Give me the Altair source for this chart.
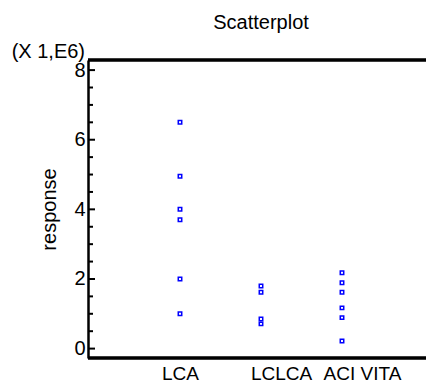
import altair as alt
import pandas as pd

# ---- data (response values in units of 1,E6) ----
categories = ["LCA", "LCLCA", "ACI VITA"]
lca = [6.5, 4.95, 4.0, 3.7, 2.0, 1.0]
lclca = [1.8, 1.62, 0.85, 0.71]
aci_vita = [2.18, 1.89, 1.62, 1.17, 0.89, 0.22]
major_ticks = [0, 2, 4, 6, 8]
minor_ticks = [0.5, 1, 1.5, 2.5, 3, 3.5, 4.5, 5, 5.5, 6.5, 7, 7.5]

rows = []
for cat, vals in zip(categories, [lca, lclca, aci_vita]):
    for v in vals:
        rows.append({"group": cat, "response": v})
df = pd.DataFrame(rows)

W, H = 338, 298
FONT = "Liberation Sans"

yscale = alt.Scale(domain=[-0.27, 8.29], nice=False, zero=False)
xscale = alt.Scale(domain=categories, range=[92, 254], padding=0)

yaxis = alt.Axis(values=major_ticks, ticks=False, domain=True, domainWidth=2.5,
                 domainColor="black", labelFontSize=20, labelPadding=3,
                 labelColor="black", labelFont=FONT, labelFlush=False,
                 title="response", titleFontSize=20, titleFontWeight="normal",
                 titleFont=FONT, titleColor="black", titlePadding=14, grid=False)

points = alt.Chart(df).mark_point(
    shape="square", filled=False, color="#0000FF", size=12, strokeWidth=1.5, opacity=1
).encode(
    x=alt.X("group:N", scale=xscale, sort=categories,
            axis=alt.Axis(title=None, ticks=False, domain=False, labelAngle=0,
                          labelFontSize=19, labelPadding=6, labelColor="black",
                          labelFont=FONT,
                          labelOffset={"condition": {"test": "datum.value == 'LCA'", "value": 0}, "value": 20})),
    y=alt.Y("response:Q", scale=yscale, axis=yaxis, title="response"),
)

major_df = pd.DataFrame({"response": major_ticks})
minor_df = pd.DataFrame({"response": minor_ticks})

major_rules = alt.Chart(major_df).mark_rule(color="black", strokeWidth=2).encode(
    y=alt.Y("response:Q", scale=yscale, axis=yaxis, title="response"), x=alt.value(0), x2=alt.value(7)
)
minor_rules = alt.Chart(minor_df).mark_rule(color="black", strokeWidth=2).encode(
    y=alt.Y("response:Q", scale=yscale, axis=yaxis, title="response"), x=alt.value(0), x2=alt.value(5)
)

top_line = alt.Chart(major_df).mark_rule(color="black", strokeWidth=2.5).encode(
    x=alt.value(0), x2=alt.value(W), y=alt.value(0)
)
bottom_line = alt.Chart(major_df).mark_rule(color="black", strokeWidth=2.5).encode(
    x=alt.value(0), x2=alt.value(W), y=alt.value(H)
)

scale_text = alt.Chart(pd.DataFrame({"t": ["(X 1,E6)"]})).mark_text(
    align="right", baseline="alphabetic", fontSize=20, font=FONT, color="black"
).encode(text="t:N", x=alt.value(-3), y=alt.value(-2))

chart = alt.layer(
    points, minor_rules, major_rules, top_line, bottom_line, scale_text
).properties(
    width=W, height=H,
    title=alt.TitleParams("Scatterplot", fontSize=20, fontWeight="normal", font=FONT,
                          anchor="middle", offset=9, dx=4, color="black"),
    autosize=alt.AutoSizeParams(type="none"),
    padding={"left": 88, "top": 60, "right": 0, "bottom": 25},
).configure_view(stroke=None).configure(background="white")

chart.save("out.html", embed_options={"renderer": "svg", "actions": False})
